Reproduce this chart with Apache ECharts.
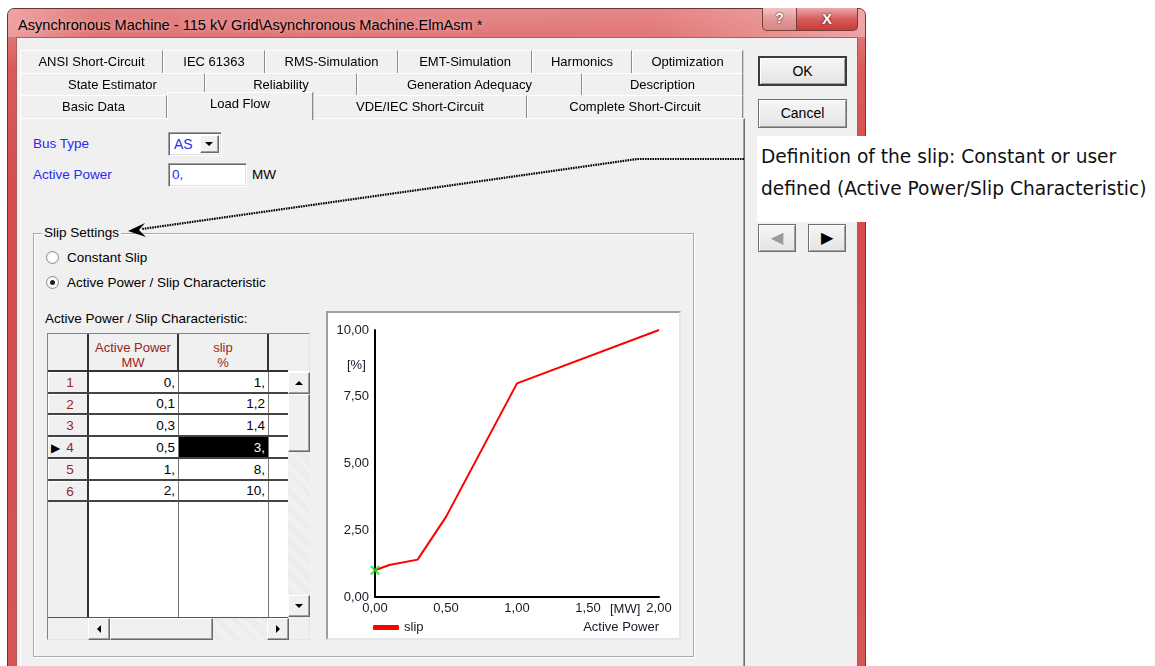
<!DOCTYPE html>
<html>
<head>
<meta charset="utf-8">
<script src="https://cdn.jsdelivr.net/npm/echarts@6/dist/echarts.min.js"></script>
<style>
html, body { margin: 0; padding: 0; background: #fff; }
body { width: 1155px; height: 666px; position: relative; overflow: hidden;
  font-family: "Liberation Sans", Arial, sans-serif; font-size: 13px; color: #000; }
.a { position: absolute; box-sizing: border-box; white-space: nowrap; }
#win { left: 7px; top: 8px; width: 859px; height: 700px; border: 1px solid #6d3434;
  border-radius: 7px 7px 0 0; background: linear-gradient(to bottom, #e58d8d 0, #d95a5a 60px, #d44c4c 200px, #d65656 100%); }
#titlebar { left: 8px; top: 9px; width: 857px; height: 28px; border-radius: 6px 6px 0 0;
  background: linear-gradient(to right, rgba(240,170,170,.8) 0, rgba(225,110,110,.3) 10%, rgba(214,70,70,0) 45%, rgba(230,120,120,.3) 75%, rgba(240,175,175,.8) 100%); }
#title { left: 18px; top: 16px; font-size: 14.6px; line-height: 18px; text-shadow: 0 0 5px rgba(255,230,230,.7); }
#help { left: 762px; top: 8px; width: 35px; height: 23px; border: 1px solid #7a3b3b; border-top: none;
  border-radius: 0 0 0 5px; background: linear-gradient(to bottom, #f1c3c3, #e39a9a 50%, #d98585); }
#close { left: 796px; top: 8px; width: 62px; height: 23px; border: 1px solid #7a3b3b; border-top: none;
  border-radius: 0 0 5px 0; background: linear-gradient(to bottom, #ecaaaa, #d85d5d 50%, #c83a3a); }
.cap { font-weight: bold; color: #fff; text-align: center; font-size: 15px; line-height: 21px;
  text-shadow: 0 0 2px #5a1a1a, 0 0 1px #5a1a1a; }
#client { left: 16px; top: 37px; width: 842px; height: 640px; background: #f0f0f0; border: 1px solid #b25b5b; }
.tab { border-top: 1px solid #fff; border-left: 1px solid #fff; border-right: 1px solid #8c8c8c;
  box-shadow: 1px 0 0 #cfcfcf; background: #f0f0f0; text-align: center; font-size: 13px; }
#panel { left: 20px; top: 118px; width: 725px; height: 560px; background: #f0f0f0;
  border-top: 1px solid #fff; border-left: 1px solid #fff; border-right: 1px solid #6e6e6e; box-shadow: inset -1px 0 0 #a0a0a0; }
.btn { background: linear-gradient(to bottom, #f6f6f6, #e4e4e4); border: 1px solid #707070;
  box-shadow: inset 1px 1px 0 #fff, inset -1px -1px 0 #a0a0a0; text-align: center; font-size: 14px; }
.lbl { font-size: 13.5px; line-height: 16px; }
.blue { color: #2a2af0; }
.sunk { background: #fff; border: 1px solid; border-color: #a0a0a0 #fff #fff #a0a0a0;
  box-shadow: inset 1px 1px 0 #696969, inset -1px -1px 0 #e3e3e3; }
.radio { width: 13px; height: 13px; border-radius: 50%; border: 1px solid #8e8f8f;
  background: radial-gradient(circle, #fff 40%, #e2e2e2); }
.dot { width: 5px; height: 5px; border-radius: 50%; background: #222; left: 3px; top: 3px; }
#group { left: 33px; top: 233px; width: 661px; height: 424px; border: 1px solid #a9a9a9; box-shadow: inset 1px 1px 0 #fff, 1px 1px 0 #fff; }
.raised { background: #f0f0f0; border: 1px solid; border-color: #fff #696969 #696969 #fff; box-shadow: inset -1px -1px 0 #a0a0a0; }
.red { color: #9a2525; }
#note { left: 757px; top: 136px; width: 398px; height: 86px; background: #fff; }
.note { left: 761px; font-family: "DejaVu Sans", sans-serif; font-size: 18.6px; line-height: 22px; color: #111; }
#chartbox { left: 326px; top: 311px; width: 355px; height: 329px; border: 2px solid; border-color: #a0a0a0 #e6e6e6 #e6e6e6 #a0a0a0; background: #fff; }
#chart { position: absolute; left: 328px; top: 313px; width: 351px; height: 325px; }
</style>
</head>
<body>
<div class="a" id="win"></div>
<div class="a" id="titlebar"></div>
<div class="a" id="title">Asynchronous Machine - 115 kV Grid\Asynchronous Machine.ElmAsm *</div>
<div class="a cap" id="help" style="font-size:14px">?</div>
<div class="a cap" id="close">X</div>
<div class="a" id="client"></div>
<div class="a" id="panel"></div>
<div id="tabs"></div>

<div class="a btn" style="left:758px;top:56px;width:89px;height:30px;line-height:27px;border:2px solid #3c3c3c;">OK</div>
<div class="a btn" style="left:758px;top:99px;width:89px;height:29px;line-height:27px;">Cancel</div>
<div class="a btn" style="left:758px;top:224px;width:38px;height:28px;line-height:26px;color:#9a9a9a;font-size:16px;">&#9664;</div>
<div class="a btn" style="left:808px;top:224px;width:38px;height:28px;line-height:26px;color:#000;font-size:16px;">&#9654;</div>

<div class="a" id="note"></div>
<div class="a note" style="top:146px;">Definition of the slip: Constant or user</div>
<div class="a note" style="top:178px;">defined (Active Power/Slip Characteristic)</div>

<div class="a lbl blue" style="left:33px;top:136px;">Bus Type</div>
<div class="a sunk" style="left:168px;top:132px;width:54px;height:24px;"></div>
<div class="a lbl blue" style="left:174px;top:136px;font-size:14px;">AS</div>
<div class="a raised" style="left:200px;top:135px;width:19px;height:18px;"></div>
<div class="a" style="left:205px;top:142px;width:0;height:0;border-left:4px solid transparent;border-right:4px solid transparent;border-top:4px solid #000;"></div>
<div class="a lbl blue" style="left:33px;top:167px;">Active Power</div>
<div class="a sunk" style="left:168px;top:163px;width:79px;height:24px;"></div>
<div class="a lbl blue" style="left:172px;top:167px;">0,</div>
<div class="a lbl" style="left:252px;top:167px;">MW</div>

<div class="a" id="group"></div>
<div class="a lbl" style="left:42px;top:225px;background:#f0f0f0;padding:0 2px;">Slip Settings</div>
<div class="a radio" style="left:46px;top:251px;"></div>
<div class="a lbl" style="left:67px;top:250px;">Constant Slip</div>
<div class="a radio" style="left:46px;top:276px;"><div class="a dot"></div></div>
<div class="a lbl" style="left:67px;top:275px;">Active Power / Slip Characteristic</div>
<div class="a lbl" style="left:45px;top:311px;">Active Power / Slip Characteristic:</div>

<div id="table"></div>

<div class="a" id="chartbox"></div>
<div id="chart"></div>

<svg class="a" style="left:0;top:0;" width="1155" height="666">
  <polyline points="744,159 637,159 142,229" fill="none" stroke="#000" stroke-width="2.2" stroke-dasharray="1.6 0.9"/>
  <polygon points="128,231 145,223 139,230 146,237" fill="#000"/>
</svg>

<script>
// characteristic (table rows and curve)
const powerMW = [0, 0.1, 0.3, 0.5, 1, 2];
const slipPct = [1, 1.2, 1.4, 3, 8, 10];
// current operating point (Active Power = 0 MW)
const operatingPoint = [[0, 1]];
const selectedRow = 3;

const xMin = 0, xMax = 2, xStep = 0.5;
const yMin = 0, yMax = 10, yStep = 2.5;

const tabRows = [
  { top: 50, h: 23, tabs: [['ANSI Short-Circuit', 20, 163], ['IEC 61363', 163, 265], ['RMS-Simulation', 265, 398], ['EMT-Simulation', 398, 532], ['Harmonics', 532, 632], ['Optimization', 632, 743]] },
  { top: 73, h: 22, tabs: [['State Estimator', 20, 205], ['Reliability', 205, 357], ['Generation Adequacy', 357, 582], ['Description', 582, 743]] },
  { top: 95, h: 23, tabs: [['Basic Data', 20, 167], ['Load Flow', 167, 313], ['VDE/IEC Short-Circuit', 313, 527], ['Complete Short-Circuit', 527, 743]] }
];

function box(x, y, w, h, css, html) {
  const d = document.createElement('div');
  d.className = 'a';
  d.style.cssText = `left:${x}px;top:${y}px;width:${w}px;height:${h}px;` + (css || '');
  if (html != null) d.innerHTML = html;
  document.body.appendChild(d);
  return d;
}

// tabs
tabRows.forEach(r => {
  r.tabs.forEach(t => {
    const sel = t[0] === 'Load Flow';
    const d = box(t[1], sel ? r.top - 3 : r.top, t[2] - t[1], sel ? r.h + 5 : r.h,
      `line-height:${sel ? r.h - 2 : r.h - 1}px;z-index:${sel ? 3 : 1};`, t[0]);
    d.classList.add('tab');
  });
});

// grid table
const fmtCell = v => Number.isInteger(v) ? v + ',' : String(v).replace('.', ',');
box(47, 333, 263, 307, 'background:#fff;border:1px solid;border-color:#828282 #e6e6e6 #e6e6e6 #828282;');
box(48, 334, 261, 37, 'background:#f0f0f0;');
box(48, 372, 40, 246, 'background:#f0f0f0;');
box(90, 618, 219, 21, 'background:#f0f0f0;');
box(48, 618, 40, 21, 'background:#f0f0f0;');
box(48, 370, 240, 2, 'background:#333;');
[88, 178, 268].forEach(x => box(x - 1, 334, 2, 37, 'background:#333;'));
box(87, 372, 2, 246, 'background:#333;');
box(178, 372, 1, 246, 'background:#777;');
box(268, 372, 1, 246, 'background:#777;');
box(48, 617, 240, 1, 'background:#555;');
box(88, 340, 90, 16, 'text-align:center;line-height:16px;', 'Active Power').classList.add('red');
box(88, 355, 90, 16, 'text-align:center;line-height:16px;', 'MW').classList.add('red');
box(178, 340, 90, 16, 'text-align:center;line-height:16px;', 'slip').classList.add('red');
box(178, 355, 90, 16, 'text-align:center;line-height:16px;', '%').classList.add('red');

powerMW.forEach((p, i) => {
  const y0 = Math.round(372 + i * 21.7), y1 = Math.round(372 + (i + 1) * 21.7);
  const h = y1 - y0;
  box(48, y0, 39, h - 1, 'border-top:1px solid #fff;border-left:1px solid #fff;');
  const num = (i === selectedRow ? '<span style="color:#000;font-size:12px;position:absolute;left:3px;">&#9654;</span>' : '') + (i + 1);
  box(48, y0, 44, h, `text-align:center;line-height:${h}px;font-size:13.5px;`, num).classList.add('red');
  box(48, y1 - 2, 240, 2, 'background:#444;');
  box(89, y0, 86, h - 2, `text-align:right;line-height:${h - 1}px;font-size:13.5px;`, fmtCell(p));
  const sel = i === selectedRow;
  box(179, y0, 89, h - 2, `background:${sel ? '#000' : 'transparent'};`);
  box(179, y0, 86, h - 2, `text-align:right;line-height:${h - 1}px;font-size:13.5px;color:${sel ? '#fff' : '#000'};`, fmtCell(slipPct[i]));
});

// scrollbars
function arrowBtn(x, y, dir) {
  box(x, y, 22, 22, '').classList.add('raised');
  const t = { up: 'border-left:4px solid transparent;border-right:4px solid transparent;border-bottom:4px solid #000;',
    down: 'border-left:4px solid transparent;border-right:4px solid transparent;border-top:4px solid #000;',
    left: 'border-top:4px solid transparent;border-bottom:4px solid transparent;border-right:4px solid #000;',
    right: 'border-top:4px solid transparent;border-bottom:4px solid transparent;border-left:4px solid #000;' }[dir];
  const ox = dir === 'up' || dir === 'down' ? 7 : 9, oy = dir === 'up' || dir === 'down' ? 9 : 7;
  box(x + ox, y + oy, 0, 0, t);
}
box(288, 394, 22, 224, 'background:repeating-linear-gradient(45deg,#f4f4f4 0 1px,#e9e9e9 1px 2px);');
box(288, 394, 22, 58, '').classList.add('raised');
arrowBtn(288, 372, 'up');
arrowBtn(288, 595, 'down');
box(110, 618, 178, 22, 'background:repeating-linear-gradient(45deg,#f4f4f4 0 1px,#e9e9e9 1px 2px);');
box(110, 618, 103, 22, '').classList.add('raised');
arrowBtn(88, 618, 'left');
arrowBtn(267, 618, 'right');

// chart
const fmtTick = v => v.toFixed(2).replace('.', ',');
const txt = '#141a26';
const font = '"Liberation Sans", Arial, sans-serif';
const chart = echarts.init(document.getElementById('chart'));
chart.setOption({
  animation: false,
  backgroundColor: '#fff',
  textStyle: { fontFamily: font },
  grid: { left: 47, top: 17, right: 20, bottom: 41 },
  xAxis: {
    type: 'value', min: xMin, max: xMax, interval: xStep,
    axisLine: { show: true, lineStyle: { color: '#000', width: 2 } },
    axisTick: { show: false },
    splitLine: { show: false },
    axisLabel: { formatter: fmtTick, color: txt, fontSize: 13, margin: 5 }
  },
  yAxis: {
    type: 'value', min: yMin, max: yMax, interval: yStep,
    axisLine: { show: true, lineStyle: { color: '#000', width: 2 } },
    axisTick: { show: false },
    splitLine: { show: false },
    axisLabel: { formatter: fmtTick, color: txt, fontSize: 13, margin: 6 }
  },
  legend: {
    data: ['slip'], left: 45, top: 308, padding: 0,
    icon: 'roundRect', itemWidth: 26, itemHeight: 5,
    textStyle: { color: txt, fontSize: 13 }
  },
  graphic: [
    { type: 'text', left: 19, top: 46, style: { text: '[%]', fill: txt, font: '13px ' + font } },
    { type: 'text', left: 282, top: 290, style: { text: '[MW]', fill: txt, font: '13px ' + font } },
    { type: 'text', right: 20, top: 308, style: { text: 'Active Power', fill: txt, font: '13px ' + font } }
  ],
  series: [
    {
      name: 'slip', type: 'line',
      data: powerMW.map((p, i) => [p, slipPct[i]]),
      symbol: 'none',
      lineStyle: { color: '#ff0000', width: 2 },
      itemStyle: { color: '#ff0000' }
    },
    {
      name: 'operating point', type: 'scatter',
      data: operatingPoint,
      symbol: 'path://M1.5,0L5,3.5L8.5,0L10,1.5L6.5,5L10,8.5L8.5,10L5,6.5L1.5,10L0,8.5L3.5,5L0,1.5Z',
      symbolSize: 10,
      itemStyle: { color: '#19e619' },
      z: 5
    }
  ]
});
</script>
</body>
</html>
